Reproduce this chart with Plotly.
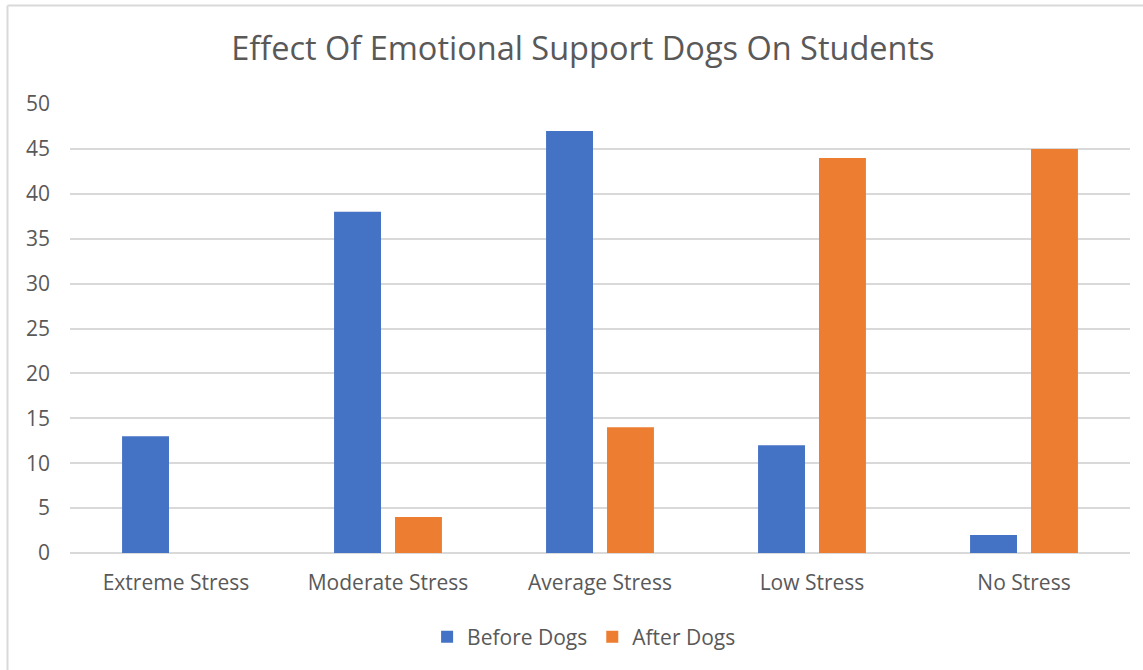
import plotly.graph_objects as go

categories = ["Extreme Stress", "Moderate Stress", "Average Stress", "Low Stress", "No Stress"]
before_dogs = [13, 38, 47, 12, 2]
after_dogs = [0, 4, 14, 44, 45]
y_ticks = [0, 5, 10, 15, 20, 25, 30, 35, 40, 45, 50]

FONT = "Open Sans"
GREY = "#595959"

fig = go.Figure()
fig.add_trace(go.Bar(name="Before Dogs", x=categories, y=before_dogs, marker_color="#4472C4",
                     marker_line_width=0))
fig.add_trace(go.Bar(name="After Dogs", x=categories, y=after_dogs, marker_color="#ED7D31",
                     marker_line_width=0))

# plot area: x 70..1130, y 104..553 (px)
L, R, T, B = 70, 13, 104, 117
W, H = 1143 - L - R, 670 - T - B

fig.update_layout(
    width=1143, height=670,
    margin=dict(l=L, r=R, t=T, b=B, autoexpand=False),
    paper_bgcolor="white", plot_bgcolor="white",
    barmode="group", bargap=0.425, bargroupgap=0.23,
    title=dict(text="Effect Of Emotional Support Dogs On Students",
               x=0.51, xanchor="center", y=1 - 49 / 670, yanchor="middle",
               font=dict(family=FONT, size=32.5, color=GREY)),
    font=dict(family=FONT, color=GREY, size=21),
    showlegend=True,
    legend=dict(orientation="h", x=0.485, xanchor="center", y=(553 - 637) / H, yanchor="middle",
                font=dict(family=FONT, size=21, color=GREY), itemwidth=30,
                traceorder="normal"),
    xaxis=dict(showgrid=False, showline=False, ticks="", tickfont=dict(size=21, color=GREY),
               ticklabelstandoff=15),
    yaxis=dict(range=[0, 50], tickvals=y_ticks, showgrid=True, gridcolor="#D9D9D9", gridwidth=1.5,
               zeroline=True, zerolinecolor="#D9D9D9", zerolinewidth=1.5, showline=False,
               ticks="", tickfont=dict(size=21, color=GREY), ticklabelstandoff=19),
    shapes=[
        dict(type="line", xref="paper", yref="paper",
             x0=(7.5 - L) / W, x1=(1143 - L) / W, y0=(553 - 5.5) / H, y1=(553 - 5.5) / H,
             line=dict(color="#D9D9D9", width=2)),
        dict(type="line", xref="paper", yref="paper",
             x0=(7.5 - L) / W, x1=(7.5 - L) / W, y0=(553 - 5.5) / H, y1=(553 - 672) / H,
             line=dict(color="#D9D9D9", width=2)),
    ],
)

fig.write_html("out.html")
